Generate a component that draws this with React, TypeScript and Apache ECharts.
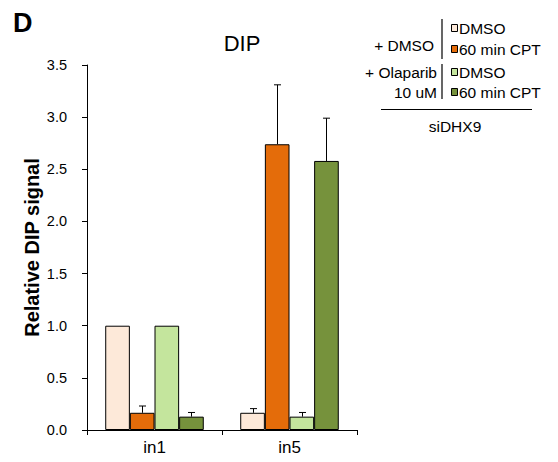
import React, { useEffect, useRef } from "react";
import * as echarts from "echarts";

const categories = ["in1", "in5"];
const seriesNames = ["+ DMSO / DMSO", "+ DMSO / 60 min CPT", "+ Olaparib 10 uM / DMSO", "+ Olaparib 10 uM / 60 min CPT"];
const colors = ["#FDE9D9", "#E46C0A", "#C4E59D", "#76923C"];
const values = [
  [1.0, 0.165],
  [0.165, 2.74],
  [1.0, 0.128],
  [0.128, 2.58],
];
const errors = [
  [0, 0.04],
  [0.065, 0.57],
  [0, 0.04],
  [0.04, 0.41],
];
const yTicks = [0, 0.5, 1.0, 1.5, 2.0, 2.5, 3.0, 3.5];

const FONT = "Liberation Sans, Arial, sans-serif";
const GAP = 0.27;

export default function App() {
  const ref = useRef<HTMLDivElement>(null);
  useEffect(() => {
    if (!ref.current) return;
    const chart = echarts.init(ref.current, null, { renderer: "svg" });
    const barSeries = values.map((vals, s) => ({
      type: "bar",
      name: seriesNames[s],
      data: vals,
      barGap: "0%",
      barCategoryGap: GAP * 100 + "%",
      itemStyle: { color: colors[s], borderColor: "#000", borderWidth: 1 },
      z: 2,
    }));
    const errSeries = values.map((vals, s) => ({
      type: "custom",
      name: "err" + s,
      data: vals.map((v, i) => [i, v, errors[s][i]]),
      z: 1,
      renderItem: (params: any, api: any) => {
        const i = api.value(0);
        const v = api.value(1);
        const e = api.value(2);
        if (!e) return null;
        const band = api.size([1, 0])[0];
        const bw = (band * (1 - GAP)) / 4;
        const c = api.coord([i, v]);
        const top = api.coord([i, v + e]);
        const x = Math.round(c[0] + (s - 1.5) * bw) + 0.5;
        const cap = 3.5;
        return {
          type: "group",
          children: [
            { type: "line", shape: { x1: x, y1: c[1], x2: x, y2: top[1] }, style: { stroke: "#000", lineWidth: 1 } },
            { type: "line", shape: { x1: x - cap, y1: top[1], x2: x + cap, y2: top[1] }, style: { stroke: "#000", lineWidth: 1 } },
          ],
        };
      },
    }));

    const legendRows = [
      { y: 28, color: colors[0], label: "DMSO" },
      { y: 49, color: colors[1], label: "60 min CPT" },
      { y: 72, color: colors[2], label: "DMSO" },
      { y: 92, color: colors[3], label: "60 min CPT" },
    ];
    const txt = (x: number, y: number, text: string, align: string, size = 15.5, weight = "normal") => ({
      type: "text",
      x,
      y,
      style: { text, x: 0, y: 0, align, verticalAlign: "middle", fontSize: size, fontFamily: FONT, fontWeight: weight, fill: "#000" },
    });
    const graphic: any[] = [
      txt(13, 23, "D", "left", 27, "bold"),
      txt(242, 43, "DIP", "center", 22),
      txt(434, 45, "+ DMSO", "right"),
      txt(437, 72, "+ Olaparib", "right"),
      txt(437, 92, "10 uM", "right"),
      { type: "line", shape: { x1: 442, y1: 19, x2: 442, y2: 59 }, style: { stroke: "#000", lineWidth: 1.2 } },
      { type: "line", shape: { x1: 442, y1: 64, x2: 442, y2: 99 }, style: { stroke: "#000", lineWidth: 1.2 } },
      { type: "line", shape: { x1: 381, y1: 109.5, x2: 532, y2: 109.5 }, style: { stroke: "#000", lineWidth: 1.2 } },
      txt(455, 126, "siDHX9", "center"),
    ];
    legendRows.forEach((r) => {
      graphic.push({
        type: "rect",
        shape: { x: 451.5, y: r.y - 3.5, width: 6, height: 7 },
        style: { fill: r.color, stroke: "#000", lineWidth: 1 },
      });
      graphic.push(txt(459, r.y, r.label, "left"));
    });

    chart.setOption({
      animation: false,
      textStyle: { fontFamily: FONT },
      grid: { left: 87, right: 201, top: 65, bottom: 32 },
      xAxis: {
        type: "category",
        data: categories,
        axisLine: { lineStyle: { color: "#000", width: 1 } },
        axisTick: { show: true, length: 5, lineStyle: { color: "#000" } },
        axisLabel: { color: "#000", fontSize: 17, margin: 9, fontFamily: FONT },
      },
      yAxis: {
        type: "value",
        min: 0,
        max: 3.5,
        interval: 0.5,
        name: "Relative DIP signal",
        nameLocation: "middle",
        nameGap: 45,
        nameTextStyle: { fontSize: 20, fontWeight: "bold", color: "#000", fontFamily: FONT },
        axisLine: { show: true, lineStyle: { color: "#000", width: 1 } },
        axisTick: { show: true, length: 5, lineStyle: { color: "#000" } },
        splitLine: { show: false },
        axisLabel: {
          color: "#000",
          fontSize: 14.5,
          margin: 20,
          fontFamily: FONT,
          formatter: (v: number) => (yTicks.includes(v) ? v.toFixed(1) : ""),
        },
      },
      series: [...barSeries, ...errSeries],
      graphic,
    });
    return () => chart.dispose();
  }, []);
  return <div ref={ref} style={{ position: "absolute", left: 0, top: 0, width: 558, height: 462 }} />;
}
